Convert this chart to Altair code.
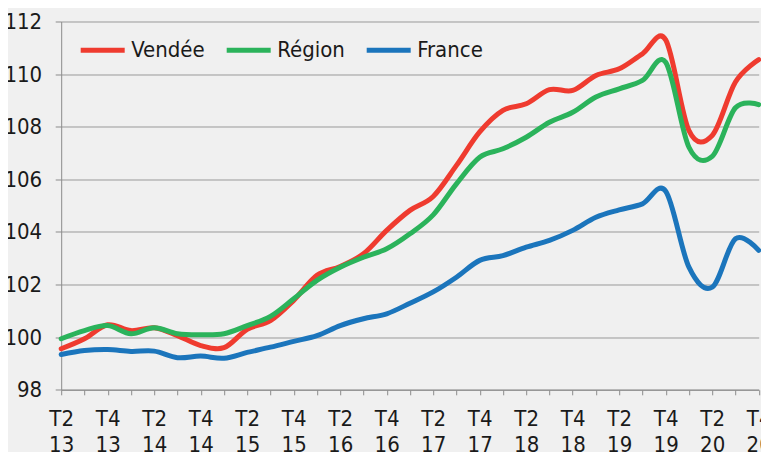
import json
import altair as alt
import pandas as pd

periods = [
    "T2 13", "T3 13", "T4 13",
    "T1 14", "T2 14", "T3 14", "T4 14",
    "T1 15", "T2 15", "T3 15", "T4 15",
    "T1 16", "T2 16", "T3 16", "T4 16",
    "T1 17", "T2 17", "T3 17", "T4 17",
    "T1 18", "T2 18", "T3 18", "T4 18",
    "T1 19", "T2 19", "T3 19", "T4 19",
    "T1 20", "T2 20", "T3 20", "T4 20",
]

vendee = [99.56, 99.94, 100.47, 100.25, 100.36, 100.06, 99.68, 99.60, 100.30, 100.63,
          101.40, 102.35, 102.69, 103.17, 104.06, 104.82, 105.35, 106.53, 107.80, 108.62,
          108.87, 109.41, 109.38, 109.95, 110.20, 110.77, 111.30, 107.85, 107.67, 109.70,
          110.55]
region = [99.94, 100.25, 100.44, 100.13, 100.36, 100.13, 100.09, 100.13, 100.44, 100.79,
          101.46, 102.16, 102.66, 103.04, 103.36, 103.93, 104.65, 105.83, 106.84, 107.16,
          107.60, 108.17, 108.55, 109.13, 109.44, 109.76, 110.45, 107.22, 106.87, 108.72,
          108.84]
france = [99.34, 99.49, 99.53, 99.46, 99.47, 99.22, 99.28, 99.20, 99.42, 99.62,
          99.84, 100.06, 100.44, 100.70, 100.89, 101.29, 101.72, 102.28, 102.92, 103.10,
          103.42, 103.68, 104.06, 104.56, 104.84, 105.07, 105.55, 102.66, 101.90, 103.74,
          103.30]

series_names = ["Vendée", "Région", "France"]
series_colors = ["#ef3b2f", "#2bb35b", "#1b75bc"]

rows = []
for name, values in zip(series_names, [vendee, region, france]):
    for i, v in enumerate(values):
        rows.append({"i": i, "periode": periods[i], "serie": name, "valeur": v})
df = pd.DataFrame(rows)

FONT = "Liberation Sans Narrow, DejaVu Sans Condensed, Roboto, sans-serif"
TEXT = "#1a1a1a"
AXIS = "#8c8c8c"

label_expr = (
    "datum.value % 2 == 0 ? split(" + json.dumps(periods, ensure_ascii=False)
    + "[datum.value], ' ') : ''"
)

chart = (
    alt.Chart(df)
    .mark_line(interpolate="cardinal", strokeWidth=5, strokeCap="round", strokeJoin="round")
    .encode(
        x=alt.X(
            "i:Q",
            scale=alt.Scale(domain=[0, 30], nice=False, zero=False),
            axis=alt.Axis(
                values=list(range(31)),
                labelExpr=label_expr,
                title=None,
                grid=False,
                tickSize=5,
                labelPadding=14,
                labelLineHeight=25.6,
                labelFontSize=22,
                labelFont=FONT,
                labelColor=TEXT,
                domainColor=AXIS,
                tickColor=AXIS,
                labelAngle=0,
                labelOverlap=False,
                labelFlush=False,
            ),
        ),
        y=alt.Y(
            "valeur:Q",
            scale=alt.Scale(domain=[98, 112], nice=False, zero=False),
            axis=alt.Axis(
                values=list(range(98, 113, 2)),
                format="d",
                title=None,
                grid=True,
                gridColor="#9a9a9a",
                gridWidth=1,
                tickSize=6,
                labelPadding=13.5,
                labelFontSize=22,
                labelFont=FONT,
                labelColor=TEXT,
                domainColor=AXIS,
                tickColor=AXIS,
            ),
        ),
        color=alt.Color(
            "serie:N",
            scale=alt.Scale(domain=series_names, range=series_colors),
            legend=alt.Legend(
                title=None,
                orient="none",
                legendX=17,
                legendY=4,
                direction="horizontal",
                symbolType="stroke",
                symbolSize=1936,
                symbolStrokeWidth=5,
                labelFontSize=22,
                labelFont=FONT,
                labelColor=TEXT,
                labelOffset=4,
                columnPadding=11,
                padding=0,
            ),
        ),
    )
    .properties(
        width=697.5,
        height=368.3,
        autosize=alt.AutoSizeParams(type="none"),
        padding={"left": 53.2, "top": 13.5, "right": 2.3, "bottom": 70},
        background="#f0f0f0",
    )
    .configure_view(strokeWidth=0)
)

chart.save("out.html", embed_options={"renderer": "svg", "actions": False})
